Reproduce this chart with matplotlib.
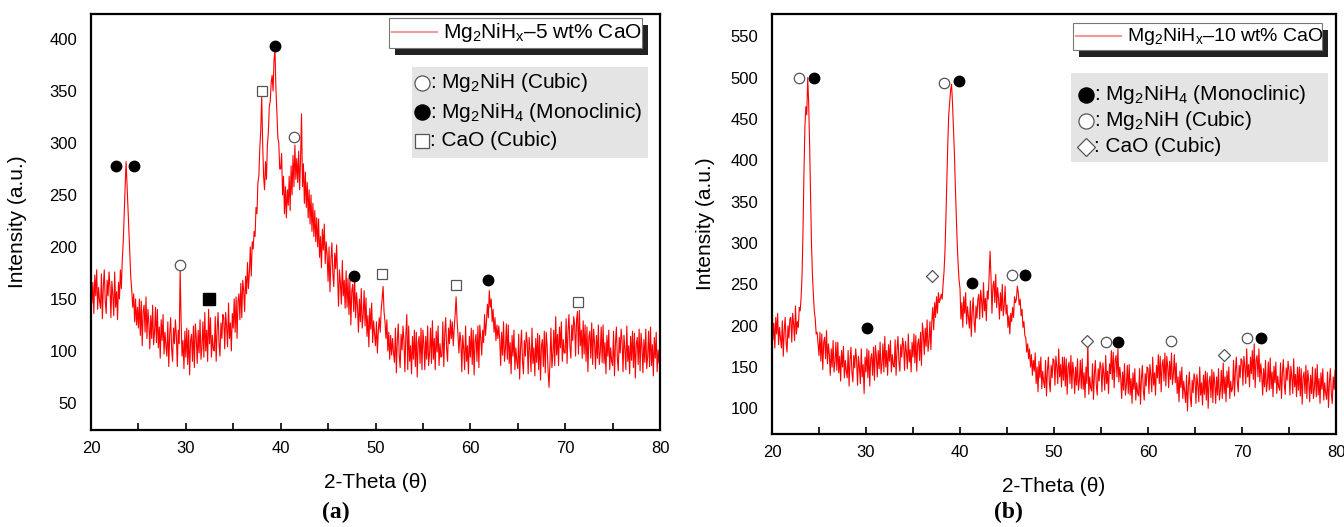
import numpy as np
import matplotlib.pyplot as plt
from matplotlib.patches import Rectangle
from matplotlib.lines import Line2D

plt.rcParams['font.family'] = ['Liberation Sans', 'DejaVu Sans']
plt.rcParams['mathtext.fontset'] = 'custom'
plt.rcParams['mathtext.rm'] = 'Liberation Sans'
plt.rcParams['mathtext.it'] = 'Liberation Sans'

# scan grid, 0.1 deg step
two_theta = np.round(np.arange(20.0, 80.001, 0.1), 1)

# (a) Mg2NiHx-5 wt% CaO, one row per degree
intensity_5 = [
    183, 146, 166, 136, 173, 153, 178, 140, 161, 148,
    141, 174, 131, 162, 178, 148, 136, 168, 153, 176,
    162, 132, 167, 154, 134, 176, 142, 157, 130, 166,
    150, 178, 160, 188, 205, 232, 258, 282, 260, 238,
    215, 192, 170, 158, 142, 155, 128, 150, 125, 142,
    122, 150, 115, 148, 105, 138, 144, 118, 152, 112,
    140, 127, 102, 134, 112, 144, 106, 118, 142, 108,
    140, 103, 123, 93, 130, 110, 135, 97, 118, 105,
    95, 128, 85, 116, 132, 102, 90, 122, 107, 130,
    115, 85, 120, 107, 178, 129, 95, 110, 83, 119,
    94, 122, 87, 120, 77, 110, 116, 90, 124, 84,
    126, 113, 88, 120, 98, 130, 92, 104, 128, 94,
    137, 100, 120, 90, 140, 107, 132, 94, 115, 102,
    100, 133, 90, 121, 137, 107, 95, 127, 112, 135,
    132, 102, 137, 124, 104, 146, 112, 127, 100, 136,
    122, 150, 118, 152, 112, 148, 155, 130, 165, 132,
    168, 158, 138, 172, 155, 185, 160, 175, 200, 172,
    205, 198, 215, 210, 238, 232, 262, 268, 295, 312,
    345, 300, 268, 255, 282, 265, 298, 310, 335, 340,
    358, 365, 350, 380, 390, 352, 330, 305, 300, 275,
    275, 290, 250, 268, 232, 258, 228, 255, 240, 268,
    235, 278, 250, 288, 258, 298, 265, 285, 262, 292,
    255, 285, 328, 258, 280, 242, 272, 238, 262, 228,
    255, 222, 250, 215, 242, 210, 235, 205, 228, 200,
    227, 190, 210, 180, 217, 197, 222, 184, 205, 192,
    167, 200, 157, 188, 204, 174, 162, 194, 179, 202,
    173, 143, 178, 165, 145, 187, 153, 168, 141, 177,
    142, 170, 135, 168, 125, 158, 164, 138, 172, 132,
    156, 143, 118, 150, 128, 160, 122, 134, 158, 124,
    151, 114, 134, 104, 141, 121, 146, 108, 129, 116,
    105, 128, 98, 120, 132, 118, 140, 150, 162, 138,
    128, 112, 130, 100, 118, 92, 115, 96, 112, 98,
    89, 122, 79, 110, 126, 96, 84, 116, 101, 124,
    110, 80, 115, 135, 82, 124, 90, 105, 78, 114,
    92, 120, 85, 118, 75, 108, 114, 88, 122, 82,
    120, 107, 82, 114, 92, 124, 86, 98, 122, 88,
    129, 92, 112, 82, 119, 99, 124, 86, 107, 94,
    95, 128, 85, 116, 132, 102, 90, 122, 107, 130,
    112, 128, 105, 122, 135, 152, 130, 115, 98, 118,
    110, 80, 115, 102, 82, 124, 90, 105, 78, 114,
    94, 122, 87, 120, 77, 110, 116, 90, 124, 84,
    125, 112, 96, 120, 108, 135, 115, 128, 145, 132,
    158, 142, 150, 128, 140, 118, 132, 110, 125, 112,
    124, 111, 86, 118, 96, 128, 90, 102, 126, 92,
    125, 88, 108, 78, 115, 95, 120, 82, 103, 90,
    83, 116, 73, 104, 120, 90, 78, 110, 95, 118,
    108, 78, 113, 100, 80, 122, 88, 103, 76, 112,
    89, 117, 82, 115, 72, 105, 111, 85, 119, 79,
    118, 105, 80, 65, 90, 122, 84, 96, 120, 86,
    133, 96, 116, 86, 123, 103, 128, 90, 111, 98,
    98, 131, 88, 119, 135, 105, 93, 125, 110, 133,
    125, 95, 130, 138, 97, 139, 105, 120, 93, 129,
    97, 125, 90, 123, 80, 113, 119, 93, 127, 87,
    121, 108, 83, 115, 93, 125, 87, 99, 123, 89,
    125, 88, 108, 78, 115, 95, 120, 82, 103, 90,
    86, 119, 76, 107, 123, 93, 81, 113, 98, 121,
    110, 80, 115, 102, 82, 124, 90, 105, 78, 114,
    91, 119, 84, 117, 74, 107, 113, 87, 121, 81,
    117, 104, 79, 111, 89, 121, 83, 95, 119, 85,
    123, 86, 106, 76, 113, 93, 118, 80, 101, 88,
    96,
]

# (b) Mg2NiHx-10 wt% CaO, one row per degree
intensity_10 = [
    240, 183, 203, 173, 210, 190, 215, 177, 198, 185,
    173, 206, 163, 194, 210, 180, 168, 200, 185, 208,
    210, 180, 215, 202, 182, 224, 190, 205, 198, 222,
    218, 235, 262, 315, 385, 440, 465, 455, 500, 470,
    420, 360, 300, 262, 238, 218, 208, 190, 192, 178,
    164, 192, 157, 190, 147, 180, 186, 160, 194, 154,
    178, 165, 140, 172, 150, 182, 144, 156, 180, 146,
    180, 143, 163, 133, 170, 150, 175, 137, 158, 145,
    137, 170, 127, 158, 174, 144, 132, 164, 149, 172,
    158, 128, 163, 150, 130, 172, 138, 153, 118, 162,
    144, 172, 137, 170, 127, 160, 166, 140, 174, 134,
    176, 163, 138, 170, 148, 180, 142, 154, 178, 144,
    187, 150, 170, 140, 177, 157, 182, 144, 165, 152,
    150, 183, 140, 171, 187, 157, 145, 177, 162, 185,
    176, 146, 181, 168, 148, 190, 156, 171, 144, 180,
    162, 190, 155, 188, 145, 178, 184, 158, 192, 152,
    203, 190, 165, 197, 175, 207, 169, 181, 205, 171,
    205, 222, 195, 228, 210, 235, 215, 240, 228, 232,
    238, 232, 250, 265, 290, 330, 375, 420, 455, 470,
    485, 492, 470, 440, 410, 370, 335, 300, 275, 255,
    245, 208, 228, 198, 235, 215, 240, 202, 223, 210,
    197, 230, 187, 218, 234, 204, 192, 224, 209, 232,
    238, 208, 243, 230, 210, 252, 218, 233, 206, 242,
    232, 260, 290, 258, 215, 248, 254, 228, 262, 222,
    246, 233, 208, 240, 218, 250, 212, 224, 248, 214,
    225, 198, 212, 190, 215, 205, 222, 210, 235, 228,
    232, 248, 240, 225, 232, 212, 220, 198, 205, 188,
    185, 168, 178, 160, 172, 150, 165, 140, 158, 145,
    167, 130, 150, 120, 157, 137, 162, 124, 145, 132,
    125, 158, 115, 146, 162, 132, 120, 152, 137, 160,
    158, 128, 163, 150, 130, 172, 138, 153, 126, 162,
    134, 162, 127, 160, 117, 150, 156, 130, 164, 124,
    156, 143, 118, 150, 128, 160, 122, 134, 158, 124,
    160, 123, 143, 113, 150, 130, 182, 117, 138, 125,
    121, 154, 111, 142, 158, 128, 116, 148, 133, 156,
    150, 120, 155, 142, 122, 164, 130, 145, 118, 154,
    142, 170, 135, 168, 125, 158, 164, 138, 172, 132,
    150, 137, 112, 144, 122, 154, 116, 128, 152, 118,
    153, 116, 136, 106, 143, 123, 148, 110, 131, 118,
    115, 148, 105, 136, 152, 122, 110, 142, 127, 150,
    148, 118, 153, 140, 120, 162, 128, 143, 116, 152,
    137, 165, 130, 163, 120, 153, 159, 133, 167, 127,
    163, 150, 125, 157, 135, 167, 129, 141, 165, 131,
    155, 118, 138, 108, 145, 125, 150, 112, 133, 120,
    107, 140, 97, 128, 144, 114, 102, 134, 119, 142,
    136, 106, 141, 128, 108, 150, 116, 131, 104, 140,
    117, 145, 110, 143, 100, 133, 139, 113, 147, 107,
    144, 131, 106, 138, 116, 148, 110, 122, 146, 112,
    155, 118, 138, 108, 145, 125, 150, 112, 133, 120,
    125, 158, 115, 146, 162, 132, 120, 152, 137, 160,
    158, 128, 163, 150, 130, 172, 138, 153, 126, 162,
    142, 170, 135, 178, 125, 158, 164, 138, 172, 132,
    154, 141, 116, 148, 126, 158, 120, 132, 156, 122,
    161, 124, 144, 114, 151, 131, 156, 118, 139, 126,
    122, 155, 112, 143, 159, 129, 117, 149, 134, 157,
    146, 116, 151, 138, 118, 160, 126, 141, 114, 150,
    122, 150, 115, 148, 105, 138, 144, 118, 152, 112,
    146, 133, 108, 140, 118, 150, 112, 124, 148, 114,
    153, 116, 136, 106, 143, 123, 148, 110, 131, 118,
    111, 144, 101, 132, 148, 118, 106, 138, 123, 146,
    125,
]

# phase markers (2-theta, height)
a_mg2nih4_x = [22.6, 24.5, 39.35, 47.7, 61.9]
a_mg2nih4_y = [278, 278, 393, 172, 168]
a_mg2nih_x = [29.4, 41.45]
a_mg2nih_y = [183, 306]
a_cao_x = [38.0, 50.7, 58.5, 71.35]
a_cao_y = [350, 174, 163, 147]
a_other_x = [32.4]
a_other_y = [150]

b_mg2nih4_x = [24.5, 39.9, 30.1, 41.3, 46.9, 56.8, 72.0]
b_mg2nih4_y = [500, 496, 197, 252, 261, 180, 185]
b_mg2nih_x = [22.9, 38.3, 45.5, 55.5, 62.4, 70.5]
b_mg2nih_y = [500, 494, 261, 180, 182, 185]
b_cao_x = [37.0, 53.5, 68.1]
b_cao_y = [260, 182, 165]

W, H = 1344, 527
fig = plt.figure(figsize=(W / 100, H / 100), dpi=100)

MARKERS = {
    'filled_circle': dict(marker='o', ms=7.5, mfc='black', mec='black'),
    'open_circle': dict(marker='o', ms=7.5, mfc='white', mec='#555555', mew=0.9),
    'open_square': dict(marker='s', ms=7, mfc='white', mec='#555555', mew=0.9),
    'filled_square': dict(marker='s', ms=8, mfc='black', mec='black'),
    'diamond': dict(marker='D', ms=6.5, mfc='white', mec='#555555', mew=0.9),
}


def fx(px):
    return px / W


def fy(py):
    return 1 - py / H


def box(x0, y0, x1, y1, **kw):
    fig.add_artist(Rectangle((fx(x0), fy(y1)), fx(x1) - fx(x0), fy(y0) - fy(y1),
                             transform=fig.transFigure, **kw))


def style_axes(ax, ylim, yticks, ylabelpad):
    ax.set_xlim(20, 80)
    ax.set_ylim(*ylim)
    ax.set_xticks(range(20, 81, 10))
    ax.set_xticks(range(25, 80, 10), minor=True)
    ax.set_yticks(yticks)
    ax.tick_params(axis='x', which='both', direction='in', length=5, width=1.2,
                   labelsize=12, pad=8)
    ax.tick_params(axis='y', length=0, labelsize=12, pad=10)
    for s in ax.spines.values():
        s.set_linewidth(1.6)
    ax.set_xlabel('2-Theta (θ)', fontsize=15, labelpad=12)
    ax.set_ylabel('Intensity (a.u.)', fontsize=15, labelpad=ylabelpad)


def marks(ax, xs, ys, kind):
    ax.plot(xs, ys, ls='none', **MARKERS[kind])


def key_row(x, y, kind, label):
    st = dict(MARKERS[kind])
    st['ms'] = st['ms'] * 1.45
    fig.add_artist(Line2D([fx(x)], [fy(y)], ls='none', transform=fig.transFigure, **st))
    fig.text(fx(x + 8), fy(y), label, fontsize=15, va='center')


def legend_box(x0, y0, x1, y1, label, fs):
    box(x0 + 6, y0 + 7, x1 + 6, y1 + 7, facecolor='#222222', edgecolor='none')
    box(x0, y0, x1, y1, facecolor='white', edgecolor='#777777', lw=0.8)
    ym = (y0 + y1) / 2
    fig.add_artist(Line2D([fx(x0 + 3), fx(x0 + 48)], [fy(ym - 1), fy(ym - 1)],
                          color='#f49a9a', lw=1.5, transform=fig.transFigure))
    fig.text(fx(x0 + 54), fy(ym), label, fontsize=fs, va='center')


# panel (a)
ax1 = fig.add_axes([fx(91), fy(430), fx(660) - fx(91), fy(14) - fy(430)])
ax1.plot(two_theta, intensity_5, color='red', lw=0.8)
style_axes(ax1, (24, 424), range(50, 401, 50), 16)
marks(ax1, a_mg2nih4_x, a_mg2nih4_y, 'filled_circle')
marks(ax1, a_mg2nih_x, a_mg2nih_y, 'open_circle')
marks(ax1, a_cao_x, a_cao_y, 'open_square')
marks(ax1, a_other_x, a_other_y, 'filled_square')

# panel (b)
ax2 = fig.add_axes([fx(772), fy(434), fx(1336) - fx(772), fy(14) - fy(434)])
ax2.plot(two_theta, intensity_10, color='red', lw=0.8)
style_axes(ax2, (69, 577), range(100, 551, 50), 11)
marks(ax2, b_mg2nih4_x, b_mg2nih4_y, 'filled_circle')
marks(ax2, b_mg2nih_x, b_mg2nih_y, 'open_circle')
marks(ax2, b_cao_x, b_cao_y, 'diamond')

# legend boxes with shadow
legend_box(389, 18, 642, 48, r'Mg$_2$NiH$_\mathrm{x}$–5 wt% CaO', 15)
legend_box(1073, 23, 1322, 50, r'Mg$_2$NiH$_\mathrm{x}$–10 wt% CaO', 14)

# phase keys
box(412, 67, 648, 158, facecolor='#e4e4e4', edgecolor='none')
key_row(422, 83, 'open_circle', r': Mg$_2$NiH (Cubic)')
key_row(422, 112, 'filled_circle', r': Mg$_2$NiH$_4$ (Monoclinic)')
key_row(422, 141, 'open_square', ': CaO (Cubic)')

box(1071, 73, 1328, 162, facecolor='#e4e4e4', edgecolor='none')
key_row(1086, 95, 'filled_circle', r': Mg$_2$NiH$_4$ (Monoclinic)')
key_row(1086, 121, 'open_circle', r': Mg$_2$NiH (Cubic)')
key_row(1086, 147, 'diamond', ': CaO (Cubic)')

# panel letters
fig.text(fx(336), fy(512), '(a)', fontsize=17, ha='center', va='center',
         family='Liberation Serif', fontweight='bold')
fig.text(fx(1008), fy(512), '(b)', fontsize=17, ha='center', va='center',
         family='Liberation Serif', fontweight='bold')

fig.savefig('out.png', dpi=100)
